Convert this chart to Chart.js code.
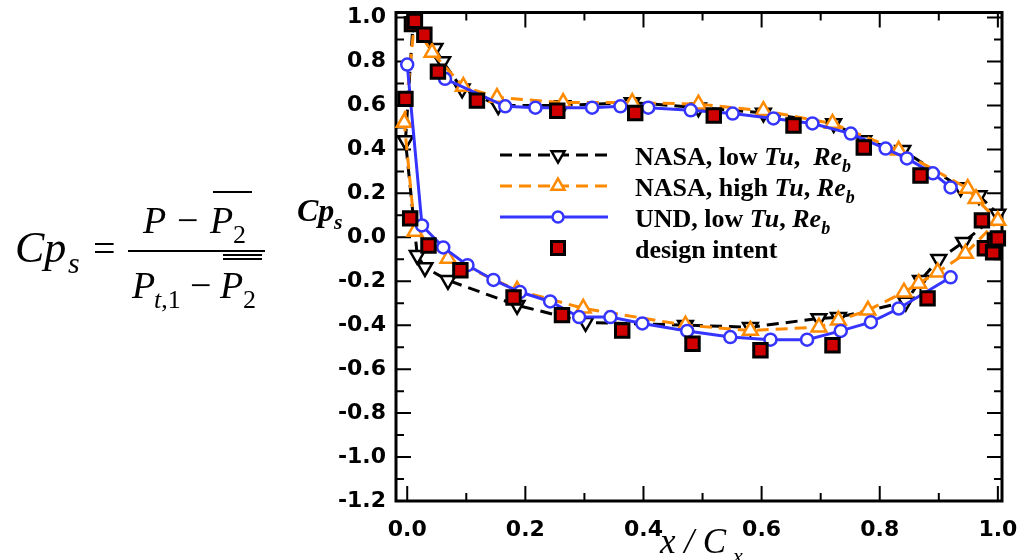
<!DOCTYPE html>
<html>
<head>
<meta charset="utf-8">
<title>Cp_s distribution</title>
<script src="https://cdn.jsdelivr.net/npm/chart.js@4.4.1/dist/chart.umd.min.js"></script>
<style>
    html, body { margin: 0; padding: 0; background: #ffffff; }
    #wrap { position: relative; width: 1022px; height: 560px; overflow: hidden; }
    #cpChart { position: absolute; left: 0; top: 0; }
    #overlay { position: absolute; left: 0; top: 0; pointer-events: none; }
    #overlay text { white-space: pre; }
</style>
</head>
<body>
<div id="wrap">
    <canvas id="cpChart" width="1022" height="560"></canvas>
    <svg id="overlay" width="1022" height="560" xmlns="http://www.w3.org/2000/svg"></svg>
</div>
<script>
// tick labels
const xTickValues = [0.0, 0.2, 0.4, 0.6, 0.8, 1.0];
const yTickValues = [-1.2, -1.0, -0.8, -0.6, -0.4, -0.2, 0.0, 0.2, 0.4, 0.6, 0.8, 1.0];

// NASA, low Tu (x/Cx, Cp_s) - upper surface, round the trailing edge, lower surface
const nasaLowTu = [
    [-0.003, 0.44], [0.010, 0.98], [0.047, 0.86], [0.060, 0.80], [0.093, 0.676],
    [0.154, 0.60], [0.263, 0.60], [0.381, 0.613], [0.493, 0.59], [0.603, 0.566],
    [0.722, 0.518], [0.773, 0.441], [0.839, 0.396], [0.937, 0.227], [0.968, 0.19],
    [1.000, 0.106], [0.942, -0.022], [0.900, -0.10], [0.869, -0.196], [0.844, -0.294],
    [0.730, -0.364], [0.697, -0.369], [0.581, -0.409], [0.471, -0.40], [0.302, -0.387],
    [0.186, -0.309], [0.069, -0.196], [0.030, -0.137], [0.017, -0.082], [-0.003, 0.44]
];

// NASA, high Tu
const nasaHighTu = [
    [-0.005, 0.522], [0.012, 0.97], [0.042, 0.841], [0.095, 0.686], [0.152, 0.636],
    [0.264, 0.613], [0.381, 0.613], [0.493, 0.606], [0.603, 0.576], [0.720, 0.518],
    [0.832, 0.396], [0.949, 0.222], [0.963, 0.176], [1.000, 0.076], [0.945, -0.074],
    [0.898, -0.159], [0.866, -0.21], [0.841, -0.25], [0.780, -0.332], [0.730, -0.378],
    [0.697, -0.409], [0.581, -0.424], [0.471, -0.40], [0.298, -0.323], [0.186, -0.241],
    [0.069, -0.096], [0.013, 0.026], [-0.005, 0.522]
];

// UND, low Tu - suction side and pressure side traces
const undUpper = [
    [0.064, 0.721], [0.166, 0.596], [0.217, 0.59], [0.313, 0.59], [0.361, 0.596],
    [0.408, 0.59], [0.480, 0.578], [0.551, 0.563], [0.620, 0.541], [0.686, 0.518],
    [0.751, 0.472], [0.810, 0.404], [0.846, 0.359], [0.890, 0.291], [0.920, 0.227]
];
const undLower = [
    [0.000, 0.786], [0.025, 0.054], [0.061, -0.046], [0.102, -0.127], [0.146, -0.194],
    [0.191, -0.249], [0.242, -0.292], [0.291, -0.363], [0.344, -0.363], [0.398, -0.392],
    [0.474, -0.426], [0.547, -0.454], [0.615, -0.466], [0.677, -0.466], [0.734, -0.426],
    [0.785, -0.386], [0.832, -0.324], [0.920, -0.182]
];

// design intent
const designIntent = [
    [-0.003, 0.63], [0.008, 0.97], [0.013, 0.985], [0.029, 0.922], [0.052, 0.754],
    [0.118, 0.622], [0.254, 0.576], [0.386, 0.566], [0.519, 0.554], [0.654, 0.509],
    [0.773, 0.409], [0.869, 0.281], [0.973, 0.077], [0.978, -0.05], [0.992, -0.068],
    [0.995, -0.014], [1.000, -0.005],
    [0.005, 0.086], [0.036, -0.037], [0.090, -0.15], [0.180, -0.274], [0.262, -0.354],
    [0.364, -0.424], [0.483, -0.484], [0.598, -0.514], [0.720, -0.491], [0.881, -0.278]
];

const black = '#000000';
const orange = '#ff8a00';
const blue = '#3535ff';
const red = '#d00000';
const dashPattern = [12, 7];

const toPoints = arr => arr.map(p => ({ x: p[0], y: p[1] }));

const lineSeries = (data, colour, dash, style, rotation, radius) => ({
    data: toPoints(data),
    showLine: true,
    borderColor: colour,
    borderWidth: 3,
    borderDash: dash,
    tension: 0,
    pointStyle: style,
    pointRotation: rotation,
    pointRadius: radius,
    pointBackgroundColor: '#ffffff',
    pointBorderColor: colour,
    pointBorderWidth: 2.5,
    clip: false
});

// frame round the plot with inward ticks on all four sides
const frameTicks = {
    id: 'frameTicks',
    beforeDatasetsDraw(chart) {
        const { ctx, chartArea: a, scales: { x, y } } = chart;
        ctx.save();
        ctx.strokeStyle = '#000';
        ctx.lineWidth = 2;
        ctx.beginPath();
        for (let i = 0; i <= 10; i++) {
            const px = x.getPixelForValue(i / 10);
            const len = i % 2 === 0 ? 15 : 8;
            ctx.moveTo(px, a.bottom); ctx.lineTo(px, a.bottom - len);
            ctx.moveTo(px, a.top); ctx.lineTo(px, a.top + len);
        }
        for (let i = -12; i <= 10; i++) {
            const py = y.getPixelForValue(i / 10);
            const len = i % 2 === 0 ? 15 : 8;
            ctx.moveTo(a.left, py); ctx.lineTo(a.left + len, py);
            ctx.moveTo(a.right, py); ctx.lineTo(a.right - len, py);
        }
        ctx.stroke();
        ctx.lineWidth = 3;
        ctx.strokeRect(a.left, a.top, a.right - a.left, a.bottom - a.top);
        ctx.restore();
    }
};

const tickFont = { family: 'DejaVu Sans', weight: 'bold', size: 22 };

// fixed axis sizes, no extra room for overhanging labels
const noPad = s => { s.paddingTop = 0; s.paddingBottom = 0; s.paddingLeft = 0; s.paddingRight = 0; };

new Chart(document.getElementById('cpChart').getContext('2d'), {
    type: 'scatter',
    data: {
        datasets: [
            {
                data: toPoints(designIntent),
                showLine: false,
                pointStyle: 'rect',
                pointRadius: 9.5,
                pointBackgroundColor: red,
                pointBorderColor: black,
                pointBorderWidth: 3,
                clip: false
            },
            lineSeries(undUpper, blue, [], 'circle', 0, 6),
            lineSeries(undLower, blue, [], 'circle', 0, 6),
            lineSeries(nasaHighTu, orange, dashPattern, 'triangle', 0, 8.5),
            lineSeries(nasaLowTu, black, dashPattern, 'triangle', 180, 8.5)
        ]
    },
    options: {
        responsive: false,
        animation: false,
        layout: { padding: { top: 12, right: 20, left: 0, bottom: 0 } },
        plugins: {
            legend: { display: false },
            tooltip: { enabled: false }
        },
        scales: {
            x: {
                type: 'linear',
                min: -0.019,
                max: 1.007,
                grid: { display: false, drawTicks: false },
                border: { display: false },
                afterBuildTicks: s => { s.ticks = xTickValues.map(v => ({ value: v })); },
                afterFit: s => { s.height = 59; noPad(s); },
                ticks: {
                    padding: 16,
                    autoSkip: false,
                    maxRotation: 0,
                    color: '#000',
                    font: tickFont,
                    callback: v => v.toFixed(1)
                }
            },
            y: {
                type: 'linear',
                min: -1.2,
                max: 1.023,
                grid: { display: false, drawTicks: false },
                border: { display: false },
                afterBuildTicks: s => { s.ticks = yTickValues.map(v => ({ value: v })); },
                afterFit: s => { s.width = 396; noPad(s); },
                ticks: {
                    padding: 10,
                    autoSkip: false,
                    color: '#000',
                    font: tickFont,
                    callback: v => v.toFixed(1)
                }
            }
        }
    },
    plugins: [frameTicks]
});

// formula, axis titles and legend as svg text on top of the canvas
const legendRows = [
    { colour: black, dash: dashPattern, marker: 'down', runs: [['NASA, low ', 'b'], ['Tu', 'i'], [',  ', 'b'], ['Re', 'i'], ['b', 'sub']] },
    { colour: orange, dash: dashPattern, marker: 'up', runs: [['NASA, high ', 'b'], ['Tu', 'i'], [', ', 'b'], ['Re', 'i'], ['b', 'sub']] },
    { colour: blue, dash: [], marker: 'circle', runs: [['UND, low ', 'b'], ['Tu', 'i'], [', ', 'b'], ['Re', 'i'], ['b', 'sub']] },
    { colour: null, dash: null, marker: 'square', runs: [['design intent', 'b']] }
];

function legendMarker(kind, cx, cy, colour) {
    if (kind === 'square') {
        return `<rect x="${cx - 6.5}" y="${cy - 6.5}" width="13" height="13" fill="${red}" stroke="#000" stroke-width="3"/>`;
    }
    if (kind === 'circle') {
        return `<circle cx="${cx}" cy="${cy}" r="5.5" fill="#fff" stroke="${colour}" stroke-width="2.5"/>`;
    }
    const r = 7.5;
    const h = r * Math.sqrt(3) / 2;
    const pts = kind === 'up'
        ? [[cx, cy - r], [cx + h, cy + r / 2], [cx - h, cy + r / 2]]
        : [[cx, cy + r], [cx + h, cy - r / 2], [cx - h, cy - r / 2]];
    return `<polygon points="${pts.map(p => p.join(',')).join(' ')}" fill="#fff" stroke="${colour}" stroke-width="2.5"/>`;
}

let legendSvg = '';
legendRows.forEach((row, i) => {
    const cy = 155 + i * 31;
    if (row.colour) {
        legendSvg += `<line x1="500" y1="${cy}" x2="608" y2="${cy}" stroke="${row.colour}" stroke-width="3"` +
            (row.dash.length ? ` stroke-dasharray="${row.dash.join(' ')}"` : '') + '/>';
    }
    legendSvg += legendMarker(row.marker, 558, cy, row.colour);
    const spans = row.runs.map(([t, k]) => {
        if (k === 'i') return `<tspan font-style="italic">${t}</tspan>`;
        if (k === 'sub') return `<tspan font-style="italic" font-size="18" dy="7">${t}</tspan>`;
        return `<tspan>${t}</tspan>`;
    }).join('');
    legendSvg += `<text x="635" y="${cy + 10}" font-family="Liberation Serif" font-weight="bold" font-size="26" fill="#000">${spans}</text>`;
});

const serif = 'font-family="Liberation Serif" fill="#000"';
const formulaSvg = `
    <text x="15" y="262" ${serif} font-style="italic" font-size="44">Cp</text>
    <text x="68" y="273" ${serif} font-style="italic" font-size="30">s</text>
    <text x="93" y="262" ${serif} font-size="40">=</text>
    <line x1="128" y1="251" x2="265" y2="251" stroke="#000" stroke-width="2"/>
    <text x="143" y="233" ${serif} font-style="italic" font-size="38">P</text>
    <text x="177" y="233" ${serif} font-size="38">\u2212</text>
    <text x="210" y="233" ${serif} font-style="italic" font-size="38">P</text>
    <text x="233" y="243" ${serif} font-size="26">2</text>
    <line x1="213" y1="192" x2="252" y2="192" stroke="#000" stroke-width="2"/>
    <text x="132" y="298" ${serif} font-style="italic" font-size="38">P</text>
    <text x="154" y="308" ${serif} font-size="26"><tspan font-style="italic">t</tspan>,1</text>
    <text x="190" y="298" ${serif} font-size="38">\u2212</text>
    <text x="220" y="298" ${serif} font-style="italic" font-size="38">P</text>
    <text x="243" y="308" ${serif} font-size="26">2</text>
    <line x1="223" y1="255" x2="262" y2="255" stroke="#000" stroke-width="2"/>
    <line x1="223" y1="259" x2="262" y2="259" stroke="#000" stroke-width="2"/>
`;

const titlesSvg = `
    <text x="297" y="221" ${serif} font-style="italic" font-weight="bold" font-size="32">Cp</text>
    <text x="334" y="229" ${serif} font-style="italic" font-weight="bold" font-size="22">s</text>
    <text x="660" y="553" ${serif} font-style="italic" font-size="35">x / C</text>
    <text x="733" y="563" ${serif} font-style="italic" font-size="22">x</text>
`;

document.getElementById('overlay').innerHTML = formulaSvg + titlesSvg + legendSvg;
</script>
</body>
</html>
